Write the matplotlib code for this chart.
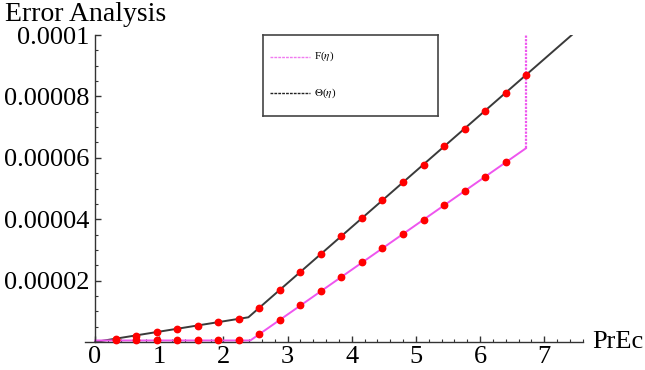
import matplotlib
matplotlib.use("Agg")
import matplotlib.pyplot as plt
from matplotlib.ticker import MultipleLocator, FixedLocator

plt.rcParams['mathtext.fontset'] = 'stix'

# ---- data ----
theta_line_x = [0.0, 2.39, 7.43]
theta_line_y = [0.0, 8.05e-6, 1.0e-4]

f_line_x = [0.0, 2.42, 6.715]
f_line_y = [0.5e-6, 0.5e-6, 6.31e-5]
f_vert_x = [6.715, 6.715]
f_vert_y = [6.31e-5, 1.0e-4]

theta_mark_x = [0.32, 0.64, 0.96, 1.28, 1.60, 1.92, 2.24, 2.56, 2.88, 3.20, 3.52,
                3.84, 4.16, 4.48, 4.80, 5.12, 5.44, 5.76, 6.08, 6.40, 6.72]
theta_mark_y = [1.1e-6, 2.1e-6, 3.2e-6, 4.2e-6, 5.3e-6, 6.4e-6, 7.5e-6, 11.0e-6,
                17.0e-6, 22.8e-6, 28.7e-6, 34.5e-6, 40.3e-6, 46.2e-6, 52.0e-6,
                57.8e-6, 63.7e-6, 69.5e-6, 75.4e-6, 81.2e-6, 87.0e-6]

f_mark_x = [0.32, 0.64, 0.96, 1.28, 1.60, 1.92, 2.24, 2.56, 2.88, 3.20, 3.52,
            3.84, 4.16, 4.48, 4.80, 5.12, 5.44, 5.76, 6.08, 6.40]
f_mark_y = [0.5e-6, 0.5e-6, 0.5e-6, 0.5e-6, 0.5e-6, 0.5e-6, 0.5e-6, 2.6e-6,
            7.2e-6, 11.9e-6, 16.5e-6, 21.2e-6, 25.9e-6, 30.5e-6, 35.2e-6,
            39.9e-6, 44.5e-6, 49.2e-6, 53.9e-6, 58.5e-6]

x_ticks = [0, 1, 2, 3, 4, 5, 6, 7]
x_tick_labels = ["0", "1", "2", "3", "4", "5", "6", "7"]
y_ticks = [2e-5, 4e-5, 6e-5, 8e-5, 1e-4]
y_tick_labels = ["0.00002", "0.00004", "0.00006", "0.00008", "0.0001"]

legend_labels = [r"F($\eta$)", r"$\Theta$($\eta$)"]

BLACK = "#3a3a3a"
MAG = "#ee55ee"
RED = "#ff0000"
SERIF = "Liberation Serif"

W, H = 645, 370
fig = plt.figure(figsize=(W / 100, H / 100), dpi=100)

x0px, x1px = 85.4, 582.7
y0px, y1px = 342.0, 35.0
ax = fig.add_axes([x0px / W, 1 - y0px / H, (x1px - x0px) / W, (y0px - y1px) / H])
ax.set_xlim(-0.15, 7.6)
ax.set_ylim(0, 1.0e-4)

ax.plot(theta_line_x, theta_line_y, color=BLACK, lw=1.4, zorder=2)
ax.plot(f_line_x, f_line_y, color=MAG, lw=1.4, zorder=2)
ax.plot(f_vert_x, f_vert_y, color=MAG, lw=1.6, ls=(0, (1, 0.6)), zorder=2)
ax.plot(theta_mark_x, theta_mark_y, ls="none", marker="o", ms=4.6, color=RED,
        mec=RED, zorder=3)
ax.plot(f_mark_x, f_mark_y, ls="none", marker="o", ms=4.6, color=RED,
        mec=RED, zorder=3, clip_on=False)

for s in ["top", "right"]:
    ax.spines[s].set_visible(False)
ax.spines["left"].set_position(("data", 0))
ax.spines["bottom"].set_position(("data", 0))
for s in ["left", "bottom"]:
    ax.spines[s].set_color("#333333")
    ax.spines[s].set_linewidth(1.0)

ax.xaxis.set_major_locator(FixedLocator(x_ticks))
ax.set_xticklabels(x_tick_labels, fontsize=19, fontfamily=SERIF)
ax.xaxis.set_minor_locator(MultipleLocator(0.2))
ax.yaxis.set_major_locator(FixedLocator(y_ticks))
ax.set_yticklabels(y_tick_labels, fontsize=19, fontfamily=SERIF)
ax.yaxis.set_minor_locator(MultipleLocator(5e-6))
ax.tick_params(axis="both", which="major", direction="in", length=4, width=1,
               color="#333333")
ax.tick_params(axis="both", which="minor", direction="in", length=2.2, width=0.8,
               color="#333333")
ax.tick_params(axis="x", which="major", pad=3)
ax.tick_params(axis="y", which="major", pad=4)

fig.text(5 / W, 1 - 21 / H, "Error Analysis", fontsize=20, fontfamily=SERIF,
         ha="left", va="baseline")
fig.text(592 / W, 1 - 342 / H, "PrEc", fontsize=19, fontfamily=SERIF,
         ha="left", va="center")

# legend box
lax = fig.add_axes([263.3 / W, 1 - 116 / H, 175 / W, 81 / H])
lax.set_xlim(0, 175)
lax.set_ylim(81, 0)
lax.set_xticks([])
lax.set_yticks([])
for s in lax.spines.values():
    s.set_color("#444444")
    s.set_linewidth(1.2)
lax.patch.set_facecolor("white")
lax.plot([7, 47], [21.7, 21.7], color="#f07af0", lw=1.0, ls=(0, (2, 0.8)))
lax.plot([7, 47], [58.3, 58.3], color="#222222", lw=1.0, ls=(0, (2, 0.8)))
lax.text(51, 21.7, legend_labels[0], fontsize=8, fontfamily=SERIF, va="center")
lax.text(51, 58.3, legend_labels[1], fontsize=8, fontfamily=SERIF, va="center")

fig.savefig("out.png", dpi=100)
